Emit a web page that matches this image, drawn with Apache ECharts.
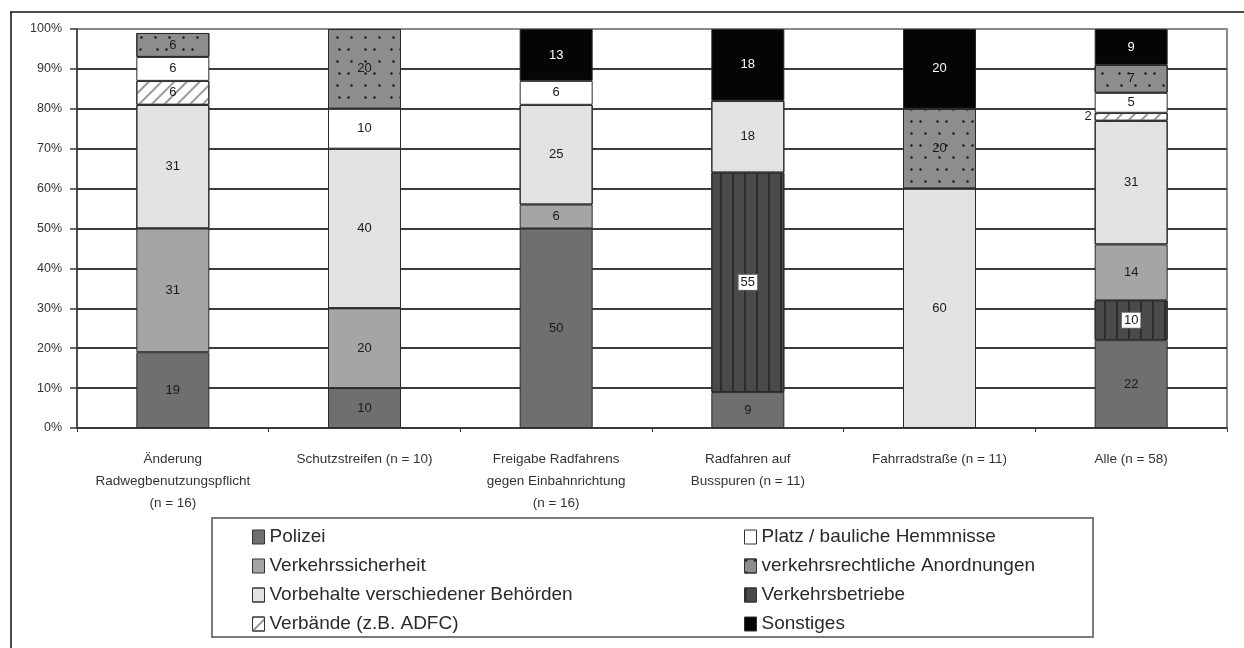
<!DOCTYPE html>
<html>
<head>
<meta charset="utf-8">
<script src="https://cdn.jsdelivr.net/npm/echarts@6/dist/echarts.min.js"></script>
<style>
  html, body { margin: 0; padding: 0; background: #fff; }
  #chart { width: 1244px; height: 648px; }
</style>
</head>
<body>
<div id="chart"></div>
<script>
// Categories (x axis)
const categories = [
  'Änderung\nRadwegbenutzungspflicht\n(n = 16)',
  'Schutzstreifen (n = 10)',
  'Freigabe Radfahrens\ngegen Einbahnrichtung\n(n = 16)',
  'Radfahren auf\nBusspuren (n = 11)',
  'Fahrradstraße (n = 11)',
  'Alle (n = 58)'
];

// Y axis tick values (percent)
const yTicks = [0, 10, 20, 30, 40, 50, 60, 70, 80, 90, 100];

// Shares per category in percent, stacked from bottom to top
const polizei            = [19, 10, 50, 9, null, 22];
const verkehrsbetriebe   = [null, null, null, 55, null, 10];
const verkehrssicherheit = [31, 20, 6, null, null, 14];
const vorbehalte         = [31, 40, 25, 18, 60, 31];
const verbaende          = [6, null, null, null, null, 2];
const platz              = [6, 10, 6, null, null, 5];
const anordnungen        = [6, 20, null, null, 20, 7];
const sonstiges          = [null, null, 13, 18, 20, 9];

// Series names
const N_POL = 'Polizei';
const N_VS = 'Verkehrssicherheit';
const N_VOR = 'Vorbehalte verschiedener Behörden';
const N_VERB = 'Verbände (z.B. ADFC)';
const N_PLATZ = 'Platz / bauliche Hemmnisse';
const N_ANO = 'verkehrsrechtliche Anordnungen';
const N_VB = 'Verkehrsbetriebe';
const N_SON = 'Sonstiges';

const FONT = '"Liberation Sans", Arial, sans-serif';

function makeSeries(name, values, color, extra) {
  extra = extra || {};
  return {
    name: name,
    type: 'bar',
    stack: 'total',
    barWidth: 73,
    data: values,
    itemStyle: Object.assign({
      color: color,
      borderColor: '#2a2a2a',
      borderWidth: 1
    }, extra.itemStyle || {}),
    label: Object.assign({
      show: true,
      position: 'inside',
      fontFamily: FONT,
      fontSize: 13,
      color: '#1a1a1a',
      formatter: p => p.value
    }, extra.label || {}),
    emphasis: { disabled: true }
  };
}

// Small "2" for Verbände in the last bar sits beside the column
const verbaendeData = verbaende.map((v, i) =>
  (i === verbaende.length - 1 && v !== null)
    ? { value: v, label: { position: 'left', distance: 3 } }
    : v
);

const series = [
  makeSeries(N_POL, polizei, '#6f6f6f'),
  makeSeries(N_VB, verkehrsbetriebe, '#4a4a4a', {
    itemStyle: {
      decal: { symbol: 'rect', symbolSize: 1, color: '#2c2c2c',
               dashArrayX: [2, 10], dashArrayY: [1, 0] }
    },
    label: { backgroundColor: '#fff', borderColor: '#666', borderWidth: 1,
             padding: [2, 2, 0, 2] }
  }),
  makeSeries(N_VS, verkehrssicherheit, '#a5a5a5'),
  makeSeries(N_VOR, vorbehalte, '#e3e3e3', {
    itemStyle: {
      decal: { symbol: 'circle', symbolSize: 0.6, color: 'rgba(160,160,160,0.55)',
               dashArrayX: [[1, 3], [1, 4, 1, 2]], dashArrayY: [2, 2] }
    }
  }),
  makeSeries(N_VERB, verbaendeData, '#ffffff', {
    itemStyle: {
      decal: { symbol: 'rect', symbolSize: 1, color: '#9a9a9a',
               dashArrayX: [1, 0], dashArrayY: [2, 7], rotation: -Math.PI / 4 }
    }
  }),
  makeSeries(N_PLATZ, platz, '#ffffff'),
  makeSeries(N_ANO, anordnungen, '#8d8d8d', {
    itemStyle: {
      decal: { symbol: 'circle', symbolSize: 0.8, color: '#1a1a1a',
               dashArrayX: [[3, 11], [3, 6, 3, 14]], dashArrayY: [3, 9] }
    }
  }),
  makeSeries(N_SON, sonstiges, '#050505', {
    label: { color: '#ffffff' }
  })
];

const legendCommon = {
  orient: 'vertical',
  itemWidth: 12,
  itemHeight: 14,
  itemGap: 9,
  icon: 'rect',
  selectedMode: false,
  textStyle: { fontFamily: FONT, fontSize: 19, color: '#2a2a2a', lineHeight: 20 },
  itemStyle: { borderColor: '#333', borderWidth: 1 }
};

const chart = echarts.init(document.getElementById('chart'), null, { renderer: 'canvas' });

chart.setOption({
  animation: false,
  backgroundColor: '#ffffff',
  grid: {
    left: 77, right: 17, top: 29, bottom: 220,
    show: true, borderColor: '#8a8a8a', borderWidth: 2,
    backgroundColor: 'transparent'
  },
  legend: [
    Object.assign({}, legendCommon, {
      left: 247, top: 522,
      data: [N_POL, N_VS, N_VOR, N_VERB]
    }),
    Object.assign({}, legendCommon, {
      left: 739, top: 522,
      data: [N_PLATZ, N_ANO, N_VB, N_SON]
    })
  ],
  xAxis: {
    type: 'category',
    data: categories,
    axisLine: { lineStyle: { color: '#3a3a3a', width: 1.5 } },
    axisTick: { show: true, length: 4, lineStyle: { color: '#3a3a3a' } },
    axisLabel: {
      interval: 0,
      margin: 20,
      fontFamily: FONT,
      fontSize: 13.5,
      lineHeight: 22,
      color: '#333'
    }
  },
  yAxis: {
    type: 'value',
    min: yTicks[0],
    max: yTicks[yTicks.length - 1],
    interval: yTicks[1] - yTicks[0],
    axisLine: { show: true, lineStyle: { color: '#3a3a3a', width: 1.5 } },
    axisTick: { show: true, length: 7, lineStyle: { color: '#3a3a3a', width: 1.5 } },
    axisLabel: {
      margin: 15,
      fontFamily: FONT,
      fontSize: 12.5,
      color: '#333',
      formatter: v => v + '%'
    },
    splitLine: {
      show: true,
      showMaxLine: false,
      lineStyle: { color: '#3c3c3c', width: 2 }
    }
  },
  series: series,
  graphic: [
    // outer frame (top and left edges)
    { type: 'line', shape: { x1: 10, y1: 12, x2: 1244, y2: 12 },
      style: { stroke: '#111', lineWidth: 1.5 }, silent: true },
    { type: 'line', shape: { x1: 11, y1: 12, x2: 11, y2: 648 },
      style: { stroke: '#111', lineWidth: 1.5 }, silent: true },
    // legend frame
    { type: 'rect', shape: { x: 212, y: 518, width: 881, height: 119 },
      style: { fill: 'none', stroke: '#7a7a7a', lineWidth: 2 }, silent: true, z: -1 }
  ]
});
</script>
</body>
</html>
